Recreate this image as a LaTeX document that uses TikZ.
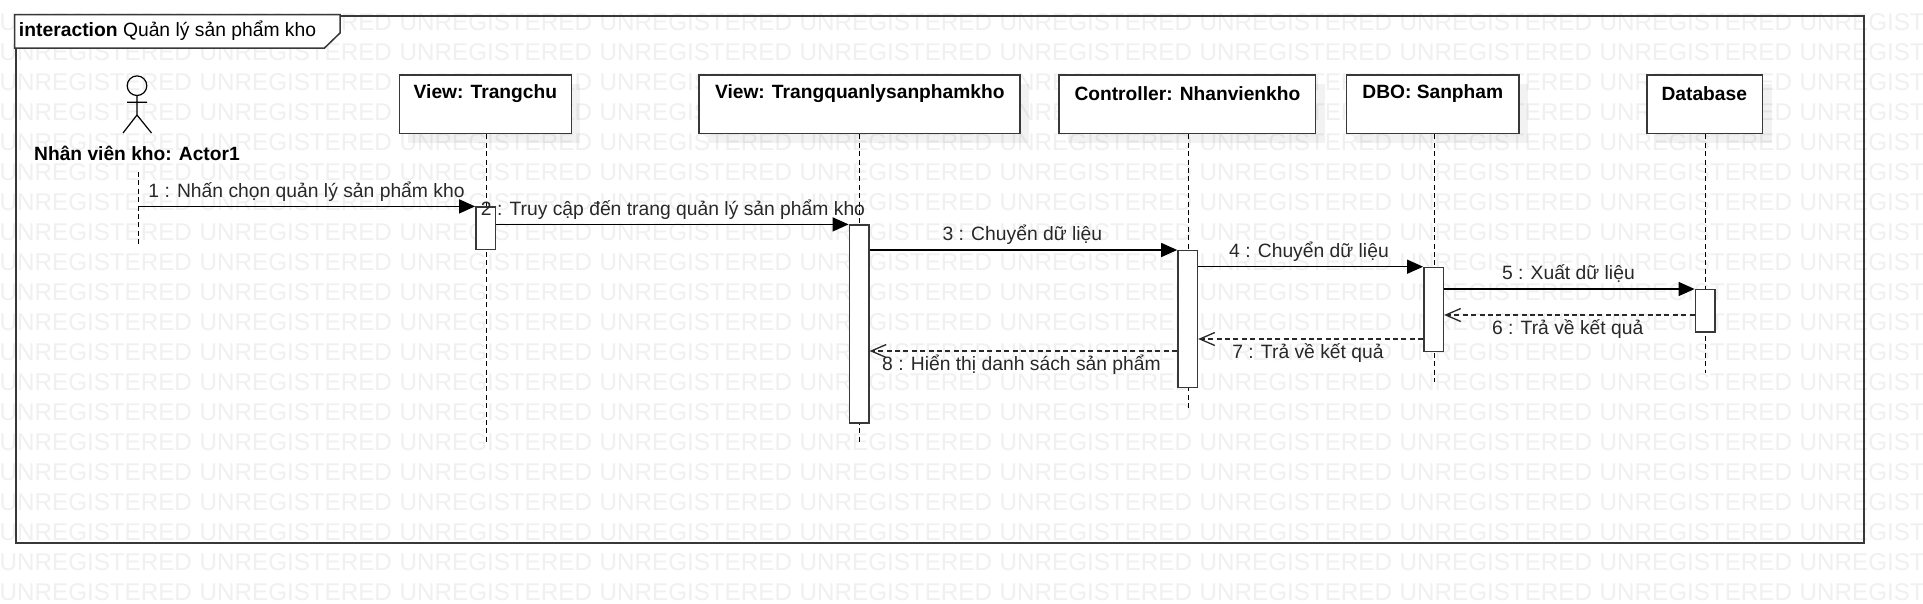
\documentclass[tikz,border=0pt]{standalone}
\usepackage{fontspec}
\setmainfont{Liberation Sans}
\definecolor{wmgray}{RGB}{240, 240, 240}
\definecolor{framegray}{RGB}{56, 56, 56}
\definecolor{inkgray}{RGB}{40, 40, 40}
\usetikzlibrary{arrows.meta, positioning, calc}
\tikzset{
  wmark/.style={inner sep=0pt, anchor=west, text=wmgray, font=\fontsize{24.2}{26}\selectfont},
  lifebox/.style={draw=framegray, fill=white, line width=1.4pt, inner sep=0pt, anchor=north west},
  boxname/.style={inner sep=0pt, font=\fontsize{19.2}{22}\selectfont\bfseries},
  lifeline/.style={draw=black, line width=1pt, dash pattern=on 5pt off 3.4pt},
  actbar/.style={draw=framegray, fill=white, line width=1.4pt, minimum width=19.6pt, inner sep=0pt, anchor=north west},
  callmsg/.style={draw=black, line width=1.4pt, -{Triangle[length=16pt,width=14pt]}},
  retmsg/.style={draw=inkgray, line width=1.3pt, dash pattern=on 5pt off 3.4pt, -{Straight Barb[length=15pt,width=13pt]}},
  msglabel/.style={inner sep=0pt, text=inkgray, font=\fontsize{19.3}{22}\selectfont},
}

\begin{document}
\begin{tikzpicture}[x=1pt, y=-1pt]
  \useasboundingbox (0,0) rectangle (1923,603);
  \clip (0,0) rectangle (1923,603);
  \fill[white] (0,0) rectangle (1923,603);

  % watermark
  \foreach \r in {0,...,19} {
    \foreach \c in {0,...,9} {
      \node[wmark] (wm-\r-\c) at ({-0.5+200*\c},{21.7+30*\r}) {UNREGISTERED};
    }
  }

  % frame
  \node[draw=framegray, line width=2pt, minimum width=1848pt, minimum height=527.6pt, inner sep=0pt, anchor=north west] (frame) at (14.6,14.7) {};
  \draw[draw=framegray, line width=1.5pt, fill=white] (frame.north west) -- (340,14.7) -- (340,33) -- (324.5,48) -- (14.6,48) -- cycle;
  \node[inner sep=0pt, anchor=west, font=\fontsize{19.3}{22}\selectfont] (title) at (18.8,31) {\textbf{interaction} Quản lý sản phẩm kho};

  % actor
  \node[draw=black, circle, line width=1.2pt, minimum size=19.6pt, inner sep=0pt] (head) at (137,85.7) {};
  \coordinate (hip) at (137,115);
  \coordinate (armL) at (127,102.3);
  \coordinate (armR) at (147,102.3);
  \coordinate (legL) at (123,133);
  \coordinate (legR) at (151.5,133);
  \draw[line width=1.2pt] (head.south) -- (hip) (armL) -- (armR) (legL) -- (hip) -- (legR);
  \node[boxname] (actorname) at (137,153.4) {Nhân viên kho: Actor1};

  % shadows
  \fill[black, opacity=0.05] (408,84) rectangle (580,143);
  \fill[black, opacity=0.05] (708,84) rectangle (1029,143);
  \fill[black, opacity=0.05] (1068,84) rectangle (1325,143);
  \fill[black, opacity=0.05] (1356,84) rectangle (1528,143);
  \fill[black, opacity=0.05] (1656,84) rectangle (1772,143);

  % lifeline heads
  \node[lifebox, minimum width=172pt, minimum height=58.6pt] (trangchu) at (398.6,74.4) {};
  \node[lifebox, minimum width=320.8pt, minimum height=58.6pt] (quanly) at (698.4,74.4) {};
  \node[lifebox, minimum width=256.4pt, minimum height=58.6pt] (nhanvien) at (1058.4,74.4) {};
  \node[lifebox, minimum width=172.3pt, minimum height=58.6pt] (sanpham) at (1346,74.4) {};
  \node[lifebox, minimum width=115.4pt, minimum height=58.6pt] (database) at (1646.2,74.4) {};
  \node[boxname] at (485.4,93.6) (trangchuname) {View: Trangchu};
  \node[boxname] at (859.8,93.6) (quanlyname) {View: Trangquanlysanphamkho};
  \node[boxname] at (1187.4,93.6) (nhanvienname) {Controller: Nhanvienkho};
  \node[boxname] at (1432.8,93.6) (sanphamname) {DBO: Sanpham};
  \node[boxname] at (1704.3,93.6) (databasename) {Database};

  % lifelines
  \coordinate (actortop) at (138.6,172);
  \coordinate (actorend) at (138.6,246);
  \coordinate (trangchuend) at (486.6,444);
  \coordinate (quanlyend) at (859.6,444);
  \coordinate (nhanvienend) at (1188.2,408);
  \coordinate (sanphamend) at (1434.2,382);
  \coordinate (databaseend) at (1705.6,373);
  \draw[lifeline] (actortop) -- (actorend);
  \draw[lifeline] (trangchu.south -| trangchuend) -- (trangchuend);
  \draw[lifeline] (quanly.south -| quanlyend) -- (quanlyend);
  \draw[lifeline] (nhanvien.south -| nhanvienend) -- (nhanvienend);
  \draw[lifeline] (sanpham.south -| sanphamend) -- (sanphamend);
  \draw[lifeline] (database.south -| databaseend) -- (databaseend);

  % activations
  \node[actbar, minimum height=42.3pt] (acttrangchu) at (475.1,206.4) {};
  \node[actbar, minimum height=198pt] (actquanly) at (848.6,224.4) {};
  \node[actbar, minimum height=136.7pt] (actnhanvien) at (1177.2,250) {};
  \node[actbar, minimum height=84pt] (actsanpham) at (1423.1,266.7) {};
  \node[actbar, minimum height=42.4pt] (actdatabase) at (1694.6,289) {};

  % messages
  \draw[callmsg] (actortop |- acttrangchu.north west) -- (acttrangchu.north west);
  \draw[callmsg] (acttrangchu.east |- actquanly.north west) -- (actquanly.north west);
  \draw[callmsg] (actquanly.east |- actnhanvien.north west) -- (actnhanvien.north west);
  \draw[callmsg] (actnhanvien.east |- actsanpham.north west) -- (actsanpham.north west);
  \draw[callmsg] (actsanpham.east |- actdatabase.north west) -- (actdatabase.north west);
  \coordinate (ret6) at (0,315);
  \coordinate (ret7) at (0,339);
  \coordinate (ret8) at (0,351);
  \draw[retmsg] (actdatabase.west |- ret6) -- (actsanpham.east |- ret6);
  \draw[retmsg] (actsanpham.west |- ret7) -- (actnhanvien.east |- ret7);
  \draw[retmsg] (actnhanvien.west |- ret8) -- (actquanly.east |- ret8);

  % message labels
  \node[msglabel] (m1) at (306.5,191.3) {1 : Nhấn chọn quản lý sản phẩm kho};
  \node[msglabel] (m2) at (673,209.6) {2 : Truy cập đến trang quản lý sản phẩm kho};
  \node[msglabel] (m3) at (1022.4,234.8) {3 : Chuyển dữ liệu};
  \node[msglabel] (m4) at (1309,251.3) {4 : Chuyển dữ liệu};
  \node[msglabel] (m5) at (1568.4,273.8) {5 : Xuất dữ liệu};
  \node[msglabel] (m6) at (1567.7,328.6) {6 : Trả về kết quả};
  \node[msglabel] (m7) at (1308,352.6) {7 : Trả về kết quả};
  \node[msglabel] (m8) at (1021.5,364.6) {8 : Hiển thị danh sách sản phẩm};
\end{tikzpicture}
\end{document}
